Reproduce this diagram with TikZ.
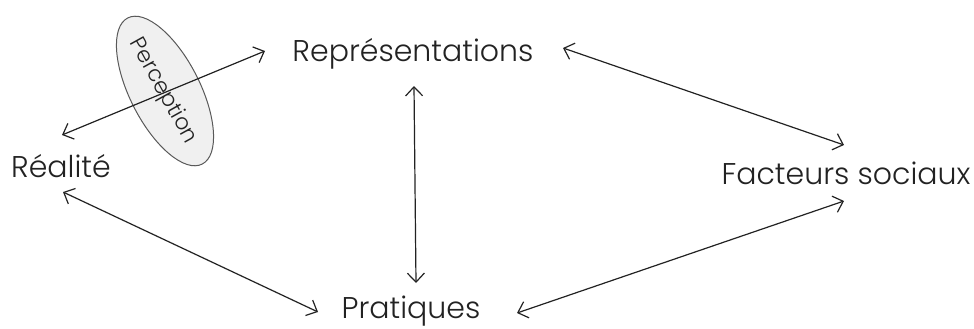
\documentclass[tikz,border=0pt]{standalone}
\usepackage{fontspec}
\setmainfont{Poppins Light}[Ligatures={NoCommon,NoRequired}]
\usetikzlibrary{arrows.meta,shapes.geometric}
\definecolor{ink}{HTML}{222222}
\begin{document}
\begin{tikzpicture}[x=1pt,y=-1pt,
  lbl/.style={font=\fontsize{30}{32}\selectfont, text=ink, inner sep=0pt, anchor=base},
  conn/.style={draw=ink, line width=1.2pt, {Straight Barb[length=9pt,width=17pt]}-{Straight Barb[length=9pt,width=17pt]}}]
\useasboundingbox (0,0) rectangle (974,329);
\node[ellipse, draw=ink!75, fill=black!6, line width=1pt, rotate=-63, minimum width=164pt, minimum height=70pt] (ell) at (165,91) {};
\node[lbl] (rep) at (413,62) {Représentations};
\node[lbl] (rea) at (61,177) {Réalité};
\node[lbl] (fac) at (846,184) {Facteurs sociaux};
\node[lbl] (pra) at (411,318) {Pratiques};
\coordinate (a1) at (62,135); \coordinate (a2) at (265,51);
\coordinate (b1) at (63,192); \coordinate (b2) at (318,312);
\coordinate (c1) at (414,86); \coordinate (c2) at (416,283);
\coordinate (d1) at (563,48); \coordinate (d2) at (844,145);
\coordinate (e1) at (517,313); \coordinate (e2) at (844,201);
\draw[conn] (a1) -- (a2);
\draw[conn] (b1) -- (b2);
\draw[conn] (c1) -- (c2);
\draw[conn] (d1) -- (d2);
\draw[conn] (e1) -- (e2);
\node[font=\fontsize{22}{24}\selectfont, text=ink, rotate=-61, inner sep=0pt] (per) at (163,91) {Perception};
\end{tikzpicture}
\end{document}
